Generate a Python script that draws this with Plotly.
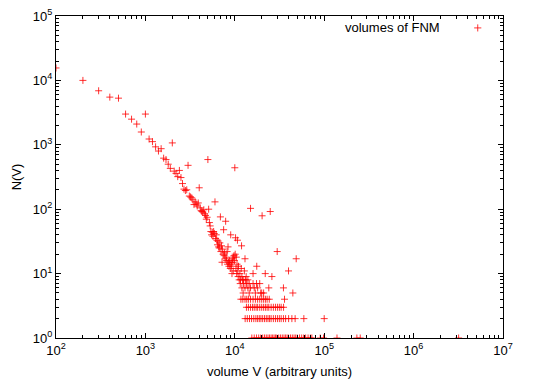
import plotly.graph_objects as go

upper_v = [
    100, 200, 300, 400, 500, 600, 700, 800, 900, 1000,
    1100, 1200, 1300, 1400, 1500, 1600, 1700, 1800, 1900, 2000,
    2100, 2200, 2300, 2400, 2500, 2600, 2700, 2800, 2900, 3000,
    3100, 3200, 3300, 3400, 3500, 3600, 3700, 3800, 3900, 4000,
    4100, 4200, 4300, 4400, 4500, 4600, 4700, 4800, 4900, 5000,
    5100, 5200, 5300, 5400, 5500, 5600, 5700, 5800, 5900, 6000,
    6100, 6200, 6300, 6400, 6500, 6600, 6700, 6800, 6900, 7000,
    7100, 7200, 7300, 7400, 7500, 7600, 7700, 7800, 7900, 8000,
    8100, 8200, 8300, 8400, 8500, 8600, 8700, 8800, 8900, 9000,
    9100, 9200, 9300, 9400, 9500, 9600, 9700, 9800, 9900, 10000,
    10100, 10200, 10300, 10400, 10500, 10600, 10700, 10800, 10900, 11000,
    11200, 11400, 11600, 11800, 11900, 12000, 12200, 12600, 12800, 13000,
    13200, 13400, 14000, 15000, 16000, 17600, 20200, 21900, 24900, 26000,
    29800, 39900, 48600,
]
upper_n = [
    15600, 10000, 6900, 5500, 5300, 3000, 2500, 2100, 1580, 3000,
    1230, 1120, 930, 800, 870, 620, 590, 500, 430, 1070,
    390, 360, 320, 400, 310, 250, 205, 195, 200, 480,
    160, 155, 150, 140, 118, 130, 120, 112, 125, 215,
    105, 95, 92, 90, 98, 85, 80, 70, 75, 590,
    100, 62, 55, 45, 40, 44, 38, 45, 42, 130,
    35, 40, 33, 28, 32, 26, 25, 30, 76, 22,
    27, 15, 24, 20, 48, 19, 21, 17, 65, 18,
    16, 22, 14, 26, 15, 13, 16, 14, 12, 40,
    15, 13, 10, 17, 15, 11, 18, 19, 16, 440,
    20, 36, 12, 18, 10, 14, 33, 11, 9, 13,
    8, 10, 8, 12, 27, 9, 8, 8, 11, 17,
    8, 9, 8, 103, 10, 13, 79, 10, 92, 9,
    22, 11, 17,
]

# rows of small counts (N = 7 ... 1)
row7_v = [11500, 12500, 13500, 14500, 16000, 17500, 19000]
row6_v = [12000, 13000, 14000, 15000, 16500, 18000, 24000, 35000]
row5_v = [12400, 14500, 17000, 19500, 20000, 21000, 44600]
row4_v = [11700, 12300, 13000, 13600, 14200, 15000, 16000, 17000, 18000, 19000,
          20000, 21000, 22000, 23000, 24300, 36000]
row3_v = [13500, 14200, 15000, 15800, 16500, 17300, 18000, 19000, 20000, 21000,
          22000, 23000, 24000, 25500, 27000, 28500, 30000, 31500, 33000, 35100]
row2_v = [13060, 13800, 14600, 15400, 16300, 17200, 18000, 18800, 19600, 20500,
          21500, 22500, 23500, 24500, 25500, 27000, 28500, 30000, 31500, 33000,
          35000, 37000, 40000, 43500, 47300, 59200, 100000]
row1_v = [15500, 16500, 17500, 18500, 19500, 20500, 21500, 22500, 23500, 24500,
          25500, 26500, 27500, 28500, 29500, 31000, 32500, 34000, 35500, 37000,
          38500, 40000, 42000, 44000, 46000, 48000, 50000, 53000, 56000, 59000,
          62000, 66000, 70000, 72800, 90200, 98400, 139000, 232000, 253000, 3190000]

x_ticks = [1e2, 1e3, 1e4, 1e5, 1e6, 1e7]
x_labels = ["10<sup>2</sup>", "10<sup>3</sup>", "10<sup>4</sup>",
            "10<sup>5</sup>", "10<sup>6</sup>", "10<sup>7</sup>"]
y_ticks = [1e0, 1e1, 1e2, 1e3, 1e4, 1e5]
y_labels = ["10<sup>0</sup>", "10<sup>1</sup>", "10<sup>2</sup>",
            "10<sup>3</sup>", "10<sup>4</sup>", "10<sup>5</sup>"]

rows = [(7, row7_v), (6, row6_v), (5, row5_v), (4, row4_v),
        (3, row3_v), (2, row2_v), (1, row1_v)]
all_v = list(upper_v)
all_n = list(upper_n)
for n, vs in rows:
    all_v += vs
    all_n += [n] * len(vs)

minor_vals = [m * 10 ** e for e in range(0, 7) for m in range(2, 10)]
red = "rgba(255,0,0,0.8)"

fig = go.Figure()
fig.add_trace(go.Scatter(
    x=all_v, y=all_n, mode="markers", name="volumes of FNM",
    marker=dict(symbol="cross-thin", size=5, color=red, line=dict(width=1, color=red)),
    cliponaxis=True, showlegend=False,
))

axis_common = dict(
    type="log", showgrid=False, zeroline=False, showline=True, automargin=False,
    linecolor="black", linewidth=1, mirror="ticks", ticks="inside",
    ticklen=5, tickcolor="black", ticklabeloverflow="allow",
    minor=dict(ticks="inside", ticklen=3, tickcolor="black", tickvals=minor_vals),
    tickfont=dict(size=13, color="black"),
)

# the page body adds an 8px offset, so the figure is 8px smaller each way
fig.update_layout(
    width=537, height=374,
    margin=dict(l=48, r=42, t=8, b=44),
    paper_bgcolor="white", plot_bgcolor="white",
    font=dict(family="Liberation Sans, Arial, sans-serif", size=13, color="black"),
    xaxis=dict(axis_common, range=[2, 7], tickvals=x_ticks, ticktext=x_labels,
               title=dict(text="volume V (arbitrary units)", standoff=10,
                          font=dict(size=13))),
    yaxis=dict(axis_common, range=[0, 5], tickvals=y_ticks, ticktext=y_labels,
               title=dict(text="N(V)", standoff=8, font=dict(size=13))),
)

# gnuplot style key: text on the left, sample on the right
fig.add_annotation(xref="paper", yref="paper", x=0.864, y=0.963,
                   xanchor="right", yanchor="middle", showarrow=False,
                   text="volumes of FNM", font=dict(size=13))
fig.add_shape(type="line", xref="paper", yref="paper",
              x0=0.9355, x1=0.9515, y0=0.963, y1=0.963,
              line=dict(color=red, width=1))
fig.add_shape(type="line", xref="paper", yref="paper",
              x0=0.9435, x1=0.9435, y0=0.952, y1=0.974,
              line=dict(color=red, width=1))

fig.write_html("out.html")
